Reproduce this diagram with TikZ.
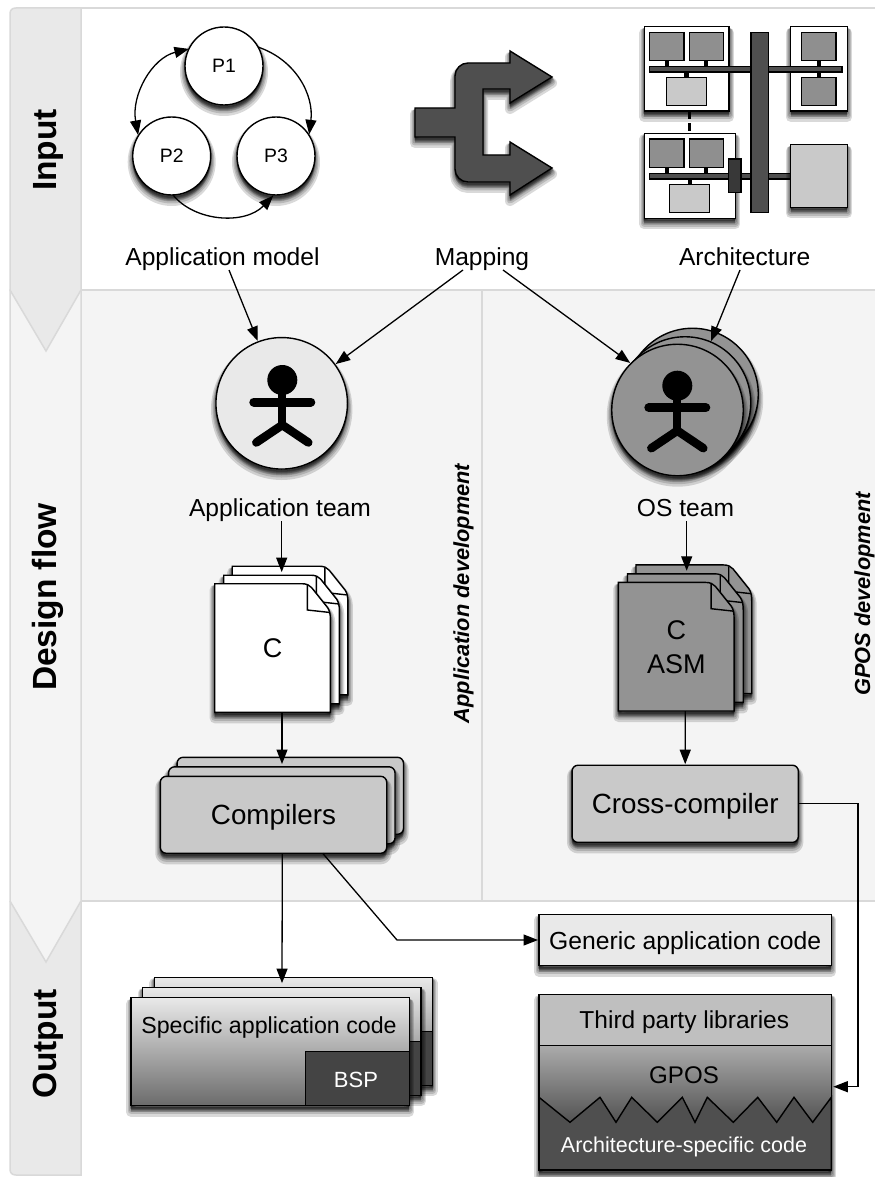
\documentclass[tikz,border=0pt]{standalone}
\usepackage{fontspec}
\setmainfont{Liberation Sans}
\usetikzlibrary{arrows.meta,shadings}
\definecolor{lanefill}{HTML}{E9E9E9}
\definecolor{flowfill}{HTML}{F4F4F4}
\definecolor{laneline}{HTML}{D9D9D9}
\definecolor{midgray}{HTML}{8F8F8F}
\definecolor{osgray}{HTML}{939393}
\definecolor{lightgray}{HTML}{C9C9C9}
\definecolor{darkgray}{HTML}{4F4F4F}
\definecolor{bspgray}{HTML}{444444}
\newcommand\fs[1]{\fontsize{#1}{#1}\selectfont}
\newcommand\softsh[1]{%
  \foreach \s/\w in {1/1,2/2,3/3,4/5,5/7,6/10}{%
    \begin{scope}[shift={(0,\s)}]
      \draw[black,fill=black,opacity=.15,line width=\w pt,line join=round] #1;
    \end{scope}}}
\tikzset{
  outline/.style={draw=black,line width=1.4pt},
  conn/.style={draw=black,line width=1.3pt,-{Triangle[length=14.5pt,width=11pt]},shorten >=1pt},
  lab/.style={font=\fs{24.6},inner sep=0pt,outer sep=0pt,text depth=5pt,anchor=base},
  proc/.style={circle,outline,fill=white,minimum size=78pt,inner sep=0pt,outer sep=0pt,font=\fs{19.4}},
  team/.style={circle,outline,minimum size=131.5pt,inner sep=0pt,outer sep=0pt},
  flat/.style={rectangle,outline,inner sep=0pt,outer sep=0pt},
  roundbox/.style={rectangle,rounded corners=6pt,outline,fill=lightgray,inner sep=0pt,outer sep=0pt,font=\fs{27.8},text height=20pt,text depth=0pt},
  lanelabel/.style={rotate=90,font=\fs{33.5}\bfseries,inner sep=0pt},
  sidelabel/.style={rotate=90,font=\fs{21.8}\bfseries\itshape,inner sep=0pt},
  archbox/.style={outline,line width=1.3pt},
  captext/.style={inner sep=0pt,text depth=0pt},
}
\newcommand\stick[2]{%
  \begin{scope}[shift={(#1,#2)}]
    \fill[black] (0,0) circle[radius=15];
    \draw[black,line width=9pt,line cap=round] (-28.5,22) -- (28.5,22);
    \draw[black,line width=8pt] (0,5) -- (0,46);
    \draw[black,line width=8.5pt,line cap=round,line join=round] (-26,62.5) -- (0,45) -- (26,62.5);
  \end{scope}}
\newcommand\sheetpath{(0,0) -- (87,0) .. controls (92,0) and (95,1.5) .. (97,4)
      -- (113,24) .. controls (115,27) and (115.7,31) .. (115.7,36) -- (115.7,128.6) -- (0,128.6) -- cycle}
\newcommand\sheet[3]{%
  \begin{scope}[shift={(#2,#3)}]
    \softsh{\sheetpath}
    \draw[outline,fill=#1] \sheetpath;
    \draw[outline] (92.7,1.5) -- (92.7,26.3) -- (114.5,28.7);
  \end{scope}}
\newcommand\speccard[2]{%
  \begin{scope}[shift={(#1,#2)}]
    \softsh{(0,0) rectangle (278.3,108)}
    \draw[outline,top color=lanefill,bottom color=black!58] (0,0) rectangle (278.3,108);
    \draw[outline,fill=bspgray] (174.7,54) rectangle (278.3,108);
  \end{scope}}
\newcommand\mappath{(415,108) -- (455,108) [rounded corners=13pt] -- (455,63) [sharp corners] -- (510,63) -- (510,51) -- (552,77) -- (510,103) -- (510,89) -- (483,89) -- (483,155) -- (510,155) -- (510,142) -- (552,168) -- (510,195) -- (510,182) [rounded corners=13pt] -- (455,182) [sharp corners] -- (455,137) -- (415,137) -- cycle}
\begin{document}
\begin{tikzpicture}[x=1pt,y=-1pt]
\useasboundingbox (0,0) rectangle (875,1177);
\fill[white] (0,0) rectangle (875,1177);
% lanes
\fill[flowfill] (81,290) rectangle (875,901);
\fill[lanefill] (10,901) -- (81,901) -- (81,1175) -- (16,1175) .. controls (12,1175) and (10,1173) .. (10,1169) -- cycle;
\draw[laneline,line width=1.5pt,fill=flowfill] (10,290) -- (10,901) -- (46,962) -- (81,901) -- (81,290) -- cycle;
\draw[laneline,line width=1.5pt,fill=lanefill] (81,290) -- (81,8) -- (16,8) .. controls (12,8) and (10,10) .. (10,14) -- (10,290) -- (46,351) -- cycle;
\draw[laneline,line width=1.5pt] (81,8) -- (875,8);
\draw[laneline,line width=1.5pt] (81,290) -- (875,290);
\draw[laneline,line width=1.5pt] (81,901) -- (875,901);
\draw[laneline,line width=1.5pt] (482,290) -- (482,901);
\draw[laneline,line width=1.5pt] (81,901) -- (81,1175) -- (16,1175) .. controls (12,1175) and (10,1173) .. (10,1169) -- (10,901);
\node[lanelabel] (laneI) at (48,150) {Input};
\node[lanelabel] (laneD) at (48,597) {Design flow};
\node[lanelabel] (laneO) at (48,1044) {Output};
\node[sidelabel] (sideA) at (463.5,593.5) {Application development};
\node[sidelabel] (sideG) at (864.5,594) {GPOS development};
% processes
\softsh{(224,66) circle[radius=39]}
\softsh{(171.7,156) circle[radius=39]}
\softsh{(276,156) circle[radius=39]}
\node[proc] (p1) at (224,66) {P1};
\node[proc] (p2) at (171.7,156) {P2};
\node[proc] (p3) at (276,156) {P3};
\draw[conn,{Triangle[length=14.5pt,width=11pt]}-{Triangle[length=14.5pt,width=11pt]}] (p1.154) .. controls (152,58) and (131,95) .. (p2.149);
\draw[conn] (p1.29) .. controls (296,60) and (314,95) .. (p3.32);
\draw[conn] (p2.272) .. controls (195,222) and (245,225) .. (p3.267);
% mapping arrow
\softsh{\mappath}
\draw[outline,fill=darkgray] \mappath;
% architecture
\softsh{(644.3,26.7) rectangle (729,111)}
\draw[archbox,fill=white] (644.3,26.7) rectangle (729,111);
\softsh{(790.7,26.7) rectangle (847.3,111)}
\draw[archbox,fill=white] (790.7,26.7) rectangle (847.3,111);
\softsh{(644.3,133.3) rectangle (735.3,218.3)}
\draw[archbox,fill=white] (644.3,133.3) rectangle (735.3,218.3);
\draw[black,line width=3pt,dash pattern=on 8pt off 4pt] (689.3,111) -- (689.3,133.3);
\foreach \a/\b/\c/\d in {649.7/32.3/684/60.7,689.3/32.3/723.7/60.7,801.7/32.3/836/60.7,801.7/77.3/836/105.7,649.7/139/684/167.7,689.3/139/723.7/167.7}
  {\draw[archbox,fill=midgray] (\a,\b) rectangle (\c,\d);}
\foreach \a/\b/\c/\d in {666.7/77.3/706.7/105.7,669.3/184.3/709.7/212.7}
  {\draw[archbox,fill=lightgray] (\a,\b) rectangle (\c,\d);}
\foreach \a/\b/\c/\d in {665/60.7/668.5/66.3,704.3/60.7/708/66.3,684.3/72/688.7/77.3,816.7/60.7/820.7/66.3,816.7/72/820.7/77.3,665/167.7/668.5/173.3,704.3/167.7/708/173.3,687.7/179/692/184.3}
  {\fill[black] (\a,\b) rectangle (\c,\d);}
\draw[archbox,fill=darkgray] (649.7,66.3) rectangle (842,72);
\draw[archbox,fill=darkgray] (649.7,173.3) rectangle (790.7,179);
\softsh{(790.7,144.7) rectangle (847.3,207.3)}
\draw[archbox,fill=lightgray] (790.7,144.7) rectangle (847.3,207.3);
\draw[archbox,fill=darkgray] (751,32.3) rectangle (768.7,212.3);
\draw[archbox,fill=black!78] (728.3,159) rectangle (741,192.7);
% labels
\node[lab] (appmodel) at (222.5,265) {Application model};
\node[lab] (mapping) at (482,265) {Mapping};
\node[lab] (archi) at (744.7,265) {Architecture};
% teams
\softsh{(281.7,403.3) circle[radius=65.7]}
\node[team,fill=lanefill] (teamA) at (281.7,403.3) {};
\stick{282.3}{380}
\softsh{(692.5,394) circle[radius=65.7]}
\node[team,fill=osgray] (teamB) at (692.5,394) {};
\softsh{(685,402.5) circle[radius=65.7]}
\node[team,fill=osgray] (teamM) at (685,402.5) {};
\softsh{(677.5,410) circle[radius=65.7]}
\node[team,fill=osgray] (teamO) at (677.5,410) {};
\stick{677.3}{385.7}
\node[lab] (labA) at (280,516) {Application team};
\node[lab] (labO) at (685.5,516) {OS team};
\draw[conn] ([xshift=6.5pt]appmodel.south) -- (teamA.111);
\draw[conn] ([xshift=-19pt]mapping.south) -- (teamA.36);
\draw[conn] ([xshift=21pt]mapping.south) -- (teamO.135);
\draw[conn] ([xshift=-4.7pt]archi.south) -- (teamM.67);
% documents
\sheet{white}{232.2}{566.2}
\sheet{white}{223.7}{575.2}
\sheet{white}{214.7}{583.7}
\node[inner sep=0pt,minimum width=115.7pt,minimum height=128.6pt,font=\fs{27}] (docA) at (272.5,648) {C};
\sheet{osgray}{636}{564.9}
\sheet{osgray}{627.5}{573.8}
\sheet{osgray}{618.4}{582.4}
\node[inner sep=0pt,minimum width=115.7pt,minimum height=128.6pt,font=\fs{27},align=center] (docO) at (676.3,646.7) {C\\[7pt]ASM};
\draw[conn] ([xshift=1.7pt]labA.south) -- ([xshift=9.2pt,yshift=10.4pt]docA.north);
\draw[conn] ([xshift=1.2pt]labO.south) -- ([xshift=10.4pt,yshift=10.4pt]docO.north);
% compilers
\softsh{[rounded corners=6pt] (177.1,757.3) rectangle (403.5,834.3)}
\node[roundbox,minimum width=226.4pt,minimum height=77pt] (compB) at (290.3,795.8) {};
\softsh{[rounded corners=6pt] (168.6,766.8) rectangle (395,843.8)}
\node[roundbox,minimum width=226.4pt,minimum height=77pt] (compM) at (281.8,805.3) {};
\softsh{[rounded corners=6pt] (160.3,776.3) rectangle (386.7,853.3)}
\node[roundbox,minimum width=226.4pt,minimum height=77pt] (compF) at (273.5,814.8) {Compilers};
\softsh{[rounded corners=6pt] (572,765.2) rectangle (798.3,842.4)}
\node[roundbox,minimum width=226.3pt,minimum height=77.2pt] (cross) at (685.2,803.8) {Cross-compiler};
\draw[conn] ([xshift=9.5pt]docA.south) -- ([xshift=8.5pt,yshift=11.3pt]compF.north);
\draw[conn] ([xshift=9pt]docO.south) -- (cross.north);
% specific code
\speccard{154.3}{977.3}
\speccard{142.7}{987.3}
\speccard{131}{997.7}
\node[inner sep=0pt,minimum width=278.3pt,minimum height=108pt] (specF) at (270.15,1051.7) {};
\node[captext,text height=17pt,font=\fs{23.2}] (specT) at (269,1025) {Specific application code};
\node[font=\fs{22},text=white,inner sep=0pt] (bsp) at (356,1080) {BSP};
\draw[conn] ([xshift=8.8pt]compF.south) -- ([xshift=11.85pt,yshift=13.4pt]specF.north);
% generic code
\softsh{(539,914.3) rectangle (831.3,965.7)}
\node[flat,fill=lanefill,minimum width=292.3pt,minimum height=51.4pt,font=\fs{24.7},text height=18pt,text depth=0pt] (generic) at (685.15,940) {Generic application code};
\coordinate (bendG) at (397,940);
\draw[conn,line join=miter] ([xshift=49.2pt]compF.south) -- (bendG) -- (generic.west);
% software stack
\softsh{(539,994.3) rectangle (831.3,1170)}
\node[rectangle,outline,fill=black!25,minimum width=292.3pt,minimum height=51.4pt,inner sep=0pt,outer sep=0pt] (third) at (685.15,1020) {};
\node[rectangle,draw=none,top color=black!33,bottom color=black!70,minimum width=292.3pt,minimum height=82pt,inner sep=0pt,outer sep=0pt] (gposN) at (685.15,1086.7) {};
\draw[outline,fill=darkgray,line join=miter] (539,1097.3) -- (570,1122.3) -- (600,1097.3) -- (616,1122.3) -- (631.7,1097.3) -- (657.3,1122.3) -- (682.3,1097.3) -- (695,1122.3) -- (707.3,1097.3) -- (733.3,1122.3) -- (757.7,1097.3) -- (776.7,1122.3) -- (794,1097.3) -- (812.7,1122.3) -- (831.3,1097.3) -- (831.3,1170) -- (539,1170) -- cycle;
\draw[outline] (539,994.3) rectangle (831.3,1170);
\draw[outline] (539,1045.7) -- (831.3,1045.7);
\node[captext,text height=18pt,font=\fs{24.5}] (thirdT) at (684.3,1019) {Third party libraries};
\node[font=\fs{24.1},inner sep=0pt] (gposT) at (684,1075) {GPOS};
\node[captext,text height=16pt,font=\fs{21.5},text=white] (archT) at (684,1144) {Architecture-specific code};
\coordinate (bendC) at (858,1086.7);
\draw[conn,shorten >=2pt] (cross.east) -| (bendC) -- (gposN.east);
\end{tikzpicture}
\end{document}
